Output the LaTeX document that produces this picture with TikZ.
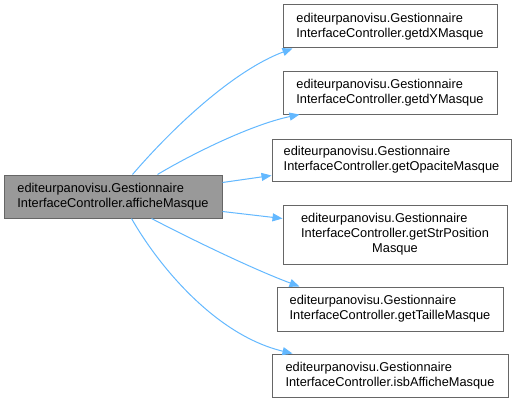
\documentclass[tikz,border=0pt]{standalone}
\usepackage{fontspec}
\setmainfont{Liberation Sans}
\usetikzlibrary{arrows.meta,calc}
\definecolor{edgeblue}{HTML}{63B8FF}
\definecolor{boxborder}{HTML}{666666}
\definecolor{srcfill}{HTML}{999999}
\begin{document}
\begin{tikzpicture}[x=0.75pt,y=-0.75pt,
  box/.style={draw=boxborder, fill=white, line width=0.75pt, inner sep=0pt, align=left,
    font=\fontsize{9.6}{11.4}\selectfont, minimum height=32.25pt},
  srcbox/.style={box, fill=srcfill},
  edge/.style={draw=edgeblue, line width=0.75pt, -{Triangle[length=7.5pt,width=6pt]}}]
\useasboundingbox (0,0) rectangle (516,403);
\node[srcbox, minimum width=163.5pt] (src) at (113,196.5) {editeurpanovisu.Gestionnaire\\InterfaceController.afficheMasque};
\node[box, minimum width=160.5pt] (dx) at (390,26.5) {editeurpanovisu.Gestionnaire\\InterfaceController.getdXMasque};
\node[box, minimum width=160.5pt] (dy) at (390,92.5) {editeurpanovisu.Gestionnaire\\InterfaceController.getdYMasque};
\node[box, minimum width=179.25pt, minimum height=31.5pt] (op) at (391.5,160) {editeurpanovisu.Gestionnaire\\InterfaceController.getOpaciteMasque};
\node[box, minimum width=168pt, minimum height=44.25pt] (str) at (395,234.5) {\begin{tabular}{@{}l@{}}editeurpanovisu.Gestionnaire\\InterfaceController.getStrPosition\\\multicolumn{1}{@{}c@{}}{Masque}\end{tabular}};
\node[box, minimum width=169.5pt, minimum height=33pt] (ta) at (390,309) {editeurpanovisu.Gestionnaire\\InterfaceController.getTailleMasque};
\node[box, minimum width=177pt] (isb) at (390,375.5) {editeurpanovisu.Gestionnaire\\InterfaceController.isbAfficheMasque};

\draw[edge] ($(src.north west)+(129,0)$) .. controls (175,125) and (235,70) .. ($(dx.south west)+(10,0)$);
\draw[edge] ($(src.north west)+(154,0)$) .. controls (190,155) and (250,125) .. ($(dy.south west)+(17,0)$);
\draw[edge] ($(src.north east)+(0,8)$) -- ($(op.south west)+(0,-6)$);
\draw[edge] ($(src.north east)+(0,37)$) -- ($(str.north west)+(0,14)$);
\draw[edge] ($(src.south west)+(148,0)$) .. controls (185,236) and (250,268) .. ($(ta.north west)+(23,0)$);
\draw[edge] ($(src.south west)+(128,0)$) .. controls (158,265) and (215,335) .. ($(isb.north west)+(21,0)$);
\end{tikzpicture}
\end{document}
